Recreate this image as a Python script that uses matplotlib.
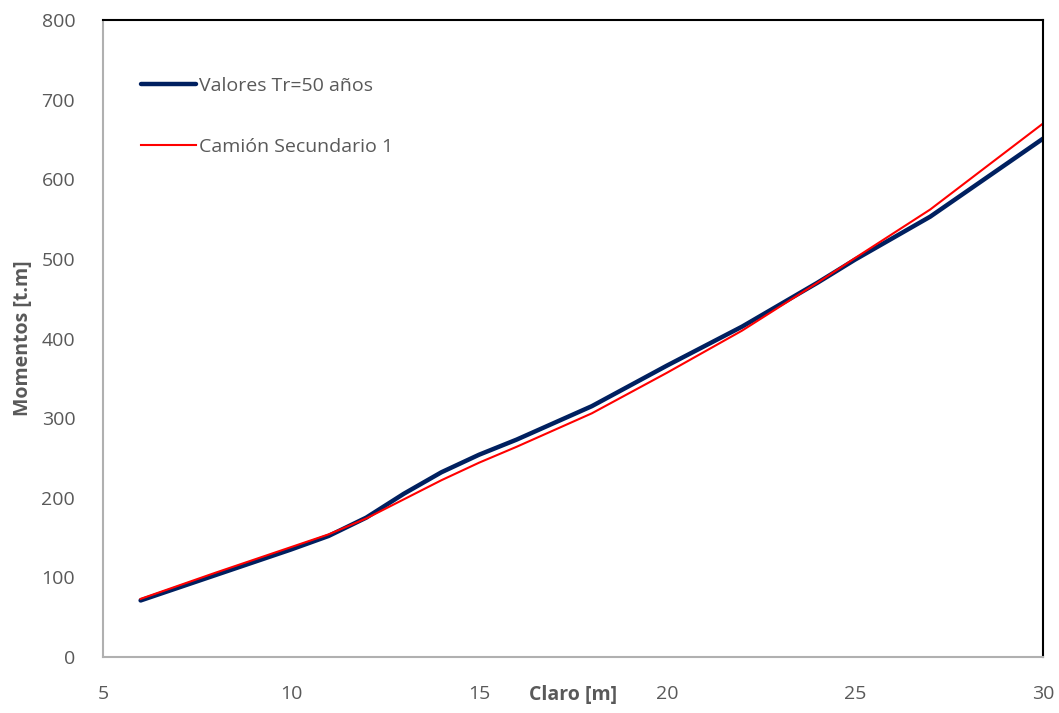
import numpy as np
import matplotlib.pyplot as plt

# span [m]
claro = [6, 8, 10, 11, 12, 13, 14, 15, 16, 18, 20, 22, 24, 25, 27, 30]
# moments [t.m]
valores_tr50 = [71, 103, 135, 152, 175, 205, 232, 254, 273, 315, 366, 415, 470, 499, 553, 651]
camion_sec1 = [73, 106, 138, 154, 174, 198, 222, 244, 264, 306, 357, 410, 470, 501, 562, 670]

plt.rcParams['font.family'] = ['Open Sans', 'DejaVu Sans']
gris = '#595959'

fig = plt.figure(figsize=(10.59, 7.13), dpi=100)
ax = fig.add_axes([103/1059, 56/713, 940/1059, 637/713])

ax.plot(claro, valores_tr50, color='#002060', lw=3.2, label='Valores Tr=50 años',
        solid_capstyle='round', solid_joinstyle='round')
ax.plot(claro, camion_sec1, color='#ff0000', lw=1.5, label='Camión Secundario 1',
        solid_joinstyle='round')

ax.set_xlim(5, 30)
ax.set_ylim(0, 800)
ax.set_xticks(range(5, 31, 5))
ax.set_yticks(range(0, 801, 100))
ax.tick_params(length=0, labelsize=14, labelcolor=gris)
ax.tick_params(axis='x', pad=20)
ax.tick_params(axis='y', pad=20)

for s in ['left', 'bottom']:
    ax.spines[s].set_color('#b0b0b0')
    ax.spines[s].set_linewidth(1.5)
for s in ['top', 'right']:
    ax.spines[s].set_color('black')
    ax.spines[s].set_linewidth(1.5)

ax.set_xlabel('Claro [m]', fontsize=14, fontweight='bold', color=gris, labelpad=-13)
ax.set_ylabel('Momentos [t.m]', fontsize=14, fontweight='bold', color=gris, labelpad=6)

ax.legend(loc='upper left', bbox_to_anchor=(0.022, 0.938), frameon=False, fontsize=14,
          labelcolor=gris, handlelength=2.8, handletextpad=0.15, labelspacing=2.2)

fig.savefig('out.png', dpi=100)
